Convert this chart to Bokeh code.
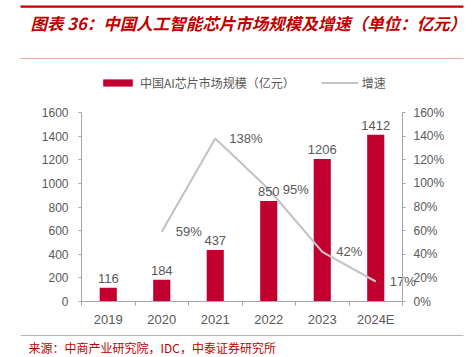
from bokeh.plotting import figure
from bokeh.models import (Range1d, LinearAxis, FixedTicker, PrintfTickFormatter,
                          ColumnDataSource, Legend, LegendItem, Label, BoxAnnotation)
from bokeh.core.properties import value
from bokeh.embed import file_html
from bokeh.resources import INLINE

categories = ["2019", "2020", "2021", "2022", "2023", "2024E"]
market_size = [116, 184, 437, 850, 1206, 1412]
growth_pct = [float("nan"), 59, 138, 95, 42, 17]
size_labels = ["116", "184", "437", "850", "1206", "1412"]
growth_labels = ["", "59%", "138%", "95%", "42%", "17%"]
left_ticks = [0, 200, 400, 600, 800, 1000, 1200, 1400, 1600]
right_ticks = [0, 20, 40, 60, 80, 100, 120, 140, 160]

RED = "#C0002F"
TITLE_RED = "#C00000"
PINK = "#E9A6A6"
GRAY_LINE = "#C4C4C4"
TEXT = "#595959"
AXIS = "#A6A6A6"
NUM_FONT = "Liberation Sans"
CJK_FONT = "Noto Sans CJK SC"

W, H = 472, 357
# plot-area box in pixels (left, right, top, bottom)
PL, PR, PT, PB = 81, 402, 112, 301
n = len(categories)
ymax, pmax = left_ticks[-1], right_ticks[-1]
kx = (PR - PL) / n
ky = (PB - PT) / ymax
kp = (PB - PT) / pmax

p = figure(width=W, height=H, output_backend="svg", toolbar_location=None,
           x_range=Range1d(-PL / kx, n + (W - PR) / kx),
           y_range=Range1d(-(H - PB) / ky, ymax + PT / ky),
           min_border=0, outline_line_color=None,
           background_fill_color="white", border_fill_color="white")
p.title = None
p.xgrid.visible = False
p.ygrid.visible = False
p.extra_y_ranges = {"pct": Range1d(-(H - PB) / kp, pmax + PT / kp)}

xs = [i + 0.5 for i in range(n)]
src = ColumnDataSource(dict(x=xs, size=market_size, growth=growth_pct,
                            slab=size_labels, glab=growth_labels))
line_src = ColumnDataSource(dict(x=xs[1:], growth=growth_pct[1:]))

xa = p.xaxis[0]
xa.fixed_location = 0
xa.bounds = (0, n)
xa.ticker = FixedTicker(ticks=xs, minor_ticks=list(range(n + 1)))
xa.major_label_overrides = {x: c for x, c in zip(xs, categories)}
xa.major_tick_line_color = None
xa.major_tick_out = 0
xa.major_tick_in = 0
xa.minor_tick_out = 4
xa.minor_tick_in = 0
xa.minor_tick_line_color = AXIS
xa.axis_line_color = AXIS
xa.major_label_text_font = NUM_FONT
xa.major_label_text_font_size = "13px"
xa.major_label_text_color = TEXT
xa.major_label_standoff = 6

ya = p.yaxis[0]
ya.fixed_location = 0
ya.bounds = (0, ymax)
ya.ticker = FixedTicker(ticks=left_ticks)
ya.minor_tick_line_color = None
ya.major_tick_out = 3
ya.major_tick_in = 0
ya.major_tick_line_color = AXIS
ya.axis_line_color = AXIS
ya.major_label_text_font = NUM_FONT
ya.major_label_text_font_size = "12px"
ya.major_label_text_color = TEXT
ya.major_label_standoff = 10

ra = LinearAxis(y_range_name="pct", ticker=FixedTicker(ticks=right_ticks),
                formatter=PrintfTickFormatter(format="%d%%"), fixed_location=n,
                bounds=(0, pmax))
ra.minor_tick_line_color = None
ra.major_tick_out = 3
ra.major_tick_in = 0
ra.major_tick_line_color = AXIS
ra.axis_line_color = AXIS
ra.major_label_text_font = NUM_FONT
ra.major_label_text_font_size = "12px"
ra.major_label_text_color = TEXT
ra.major_label_standoff = 8
p.add_layout(ra, "right")

bars = p.vbar(x="x", top="size", width=0.32, source=src, fill_color=RED, line_color=None)
ln = p.line(x="x", y="growth", source=line_src, y_range_name="pct",
            line_color=GRAY_LINE, line_width=2.2)

p.text(x="x", y="size", text="slab", source=src, text_align="center", text_baseline="bottom",
       y_offset=-5, text_font=value(NUM_FONT), text_font_size="13px", text_color=TEXT)
p.text(x="x", y="growth", text="glab", source=src, y_range_name="pct", text_align="left",
       text_baseline="middle", x_offset=14, text_font=value(NUM_FONT), text_font_size="13px",
       text_color=TEXT)

legend = Legend(items=[LegendItem(label="中国AI芯片市场规模（亿元）", renderers=[bars]),
                       LegendItem(label="增速", renderers=[ln])],
                orientation="horizontal", location=(99, H - 91), glyph_width=37, glyph_height=9,
                label_standoff=4, spacing=26, padding=0, margin=0,
                label_text_font=CJK_FONT, label_text_font_size="12px", label_text_color=TEXT,
                border_line_color=None, background_fill_alpha=0)
p.add_layout(legend, "center")

p.add_layout(Label(x=30, y=H - 22, x_units="screen", y_units="screen",
                   text="图表 36：中国人工智能芯片市场规模及增速（单位：亿元）",
                   text_font=CJK_FONT, text_font_size="16.5px", text_font_style="bold italic",
                   text_color=TITLE_RED, text_baseline="middle"))
p.add_layout(Label(x=28, y=H - 347, x_units="screen", y_units="screen",
                   text="来源：中商产业研究院，IDC，中泰证券研究所",
                   text_font=CJK_FONT, text_font_size="12px", text_color=TITLE_RED,
                   text_baseline="middle"))

for (top, bottom, col) in [(5, 7.2, TITLE_RED), (57.5, 58.5, PINK), (334.5, 335.5, PINK)]:
    p.add_layout(BoxAnnotation(left=20, right=463, top=H - top, bottom=H - bottom,
                               left_units="screen", right_units="screen",
                               top_units="screen", bottom_units="screen",
                               fill_color=col, fill_alpha=1, line_color=None))

open("out.html", "w").write(file_html(p, INLINE))
